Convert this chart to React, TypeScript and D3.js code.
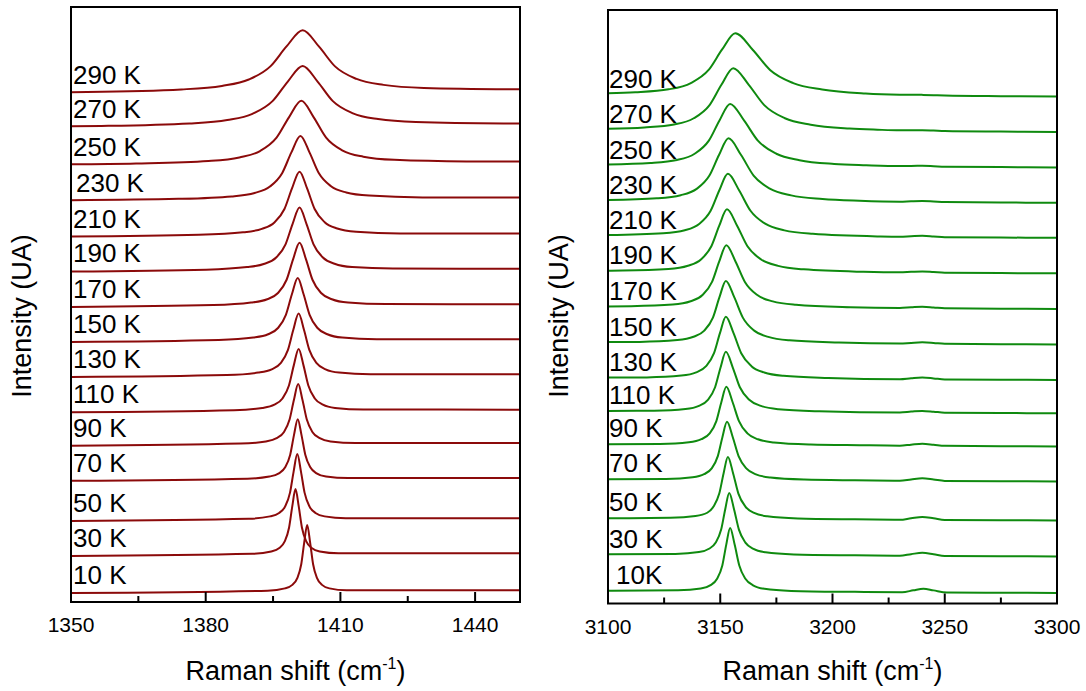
import React from "react";
import * as d3 from "d3";

// Temperature of each stacked spectrum, bottom to top
const temperatures = ["10 K", "30 K", "50 K", "70 K", "90 K", "110 K", "130 K", "150 K", "170 K", "190 K", "210 K", "230 K", "250 K", "270 K", "290 K"];
const rightLabels = ["10K", "30 K", "50 K", "70 K", "90 K", "110 K", "130 K", "150 K", "170 K", "190 K", "210 K", "230 K", "250 K", "270 K", "290 K"];

// Axis ticks (cm-1)
const leftMajorTicks = [1350, 1380, 1410, 1440];
const leftMinorTicks = [1365, 1395, 1425];
const rightMajorTicks = [3100, 3150, 3200, 3250, 3300];
const rightMinorTicks = [3125, 3175, 3225, 3275];

// Vertical stacking offsets (a.u.) of each spectrum
const leftOffsets = [0.176, 0.798, 1.387, 2.062, 2.652, 3.213, 3.807, 4.395, 4.983, 5.58, 6.168, 6.773, 7.373, 8.008, 8.58];
const rightOffsets = [0.202, 0.817, 1.424, 2.081, 2.671, 3.23, 3.791, 4.389, 4.987, 5.586, 6.184, 6.773, 7.368, 7.965, 8.559];

// ~1400 cm-1 band: [Raman shift, intensity] for 10 K ... 290 K
const band1400: number[][][] = [
  [[1350, -0.025], [1393.8, 0.014], [1397.65, 0.053], [1399.3, 0.112], [1400.4, 0.224], [1401.28, 0.459], [1401.94, 0.823], [1402.6, 1.12], [1403.26, 0.823], [1403.92, 0.459], [1404.8, 0.224], [1405.9, 0.112], [1407.55, 0.053], [1411.4, 0.021], [1450, 0.02]],
  [[1350, -0.025], [1390.4, 0.012], [1394.6, 0.052], [1396.4, 0.11], [1397.6, 0.22], [1398.56, 0.451], [1399.28, 0.809], [1400, 1.1], [1400.72, 0.809], [1401.44, 0.451], [1402.4, 0.22], [1403.6, 0.11], [1405.4, 0.052], [1409.6, 0.021], [1450, 0.02]],
  [[1350, -0.025], [1389.6, 0.012], [1394.33, 0.052], [1396.35, 0.11], [1397.7, 0.22], [1398.78, 0.451], [1399.59, 0.809], [1400.4, 1.1], [1401.21, 0.809], [1402.02, 0.451], [1403.1, 0.22], [1404.45, 0.11], [1406.48, 0.052], [1411.2, 0.021], [1450, 0.02]],
  [[1350, -0.025], [1389.3, 0.011], [1394.2, 0.047], [1396.3, 0.101], [1397.7, 0.202], [1398.82, 0.414], [1399.66, 0.742], [1400.5, 1.01], [1401.34, 0.742], [1402.18, 0.414], [1403.3, 0.202], [1404.7, 0.101], [1406.8, 0.047], [1411.7, 0.021], [1450, 0.02]],
  [[1350, -0.025], [1387.8, 0.01], [1393.4, 0.047], [1395.8, 0.101], [1397.4, 0.202], [1398.68, 0.414], [1399.64, 0.742], [1400.6, 1.01], [1401.56, 0.742], [1402.52, 0.414], [1403.8, 0.202], [1405.4, 0.101], [1407.8, 0.047], [1413.4, 0.021], [1450, 0.02]],
  [[1350, -0.025], [1386.3, 0.009], [1392.6, 0.049], [1395.3, 0.104], [1397.1, 0.208], [1398.54, 0.426], [1399.62, 0.764], [1400.7, 1.04], [1401.78, 0.764], [1402.86, 0.426], [1404.3, 0.208], [1406.1, 0.104], [1408.8, 0.049], [1415.1, 0.022], [1450, 0.02]],
  [[1350, -0.025], [1384.7, 0.008], [1391.7, 0.049], [1394.7, 0.104], [1396.7, 0.208], [1398.3, 0.426], [1399.5, 0.764], [1400.7, 1.04], [1401.9, 0.764], [1403.1, 0.426], [1404.7, 0.208], [1406.7, 0.104], [1409.7, 0.049], [1416.7, 0.022], [1450, 0.02]],
  [[1350, -0.025], [1382.9, 0.008], [1390.6, 0.049], [1393.9, 0.105], [1396.1, 0.21], [1397.86, 0.431], [1399.18, 0.772], [1400.5, 1.05], [1401.82, 0.772], [1403.14, 0.431], [1404.9, 0.21], [1407.1, 0.105], [1410.4, 0.049], [1418.1, 0.023], [1450, 0.02]],
  [[1350, -0.025], [1381.7, 0.007], [1390.1, 0.05], [1393.7, 0.106], [1396.1, 0.211], [1398.02, 0.433], [1399.46, 0.775], [1400.9, 1.055], [1402.34, 0.775], [1403.78, 0.433], [1405.7, 0.211], [1408.1, 0.106], [1411.7, 0.05], [1420.1, 0.024], [1450, 0.022]],
  [[1350, -0.024], [1380.1, 0.006], [1389.2, 0.049], [1393.1, 0.105], [1395.7, 0.21], [1397.78, 0.431], [1399.34, 0.772], [1400.9, 1.05], [1402.46, 0.772], [1404.02, 0.431], [1406.1, 0.21], [1408.7, 0.105], [1412.6, 0.049], [1421.7, 0.025], [1450, 0.022]],
  [[1350, -0.024], [1378.5, 0.005], [1388.3, 0.045], [1392.5, 0.104], [1395.3, 0.211], [1397.54, 0.437], [1399.22, 0.783], [1400.9, 1.065], [1402.58, 0.783], [1404.26, 0.437], [1406.5, 0.215], [1409.3, 0.11], [1413.5, 0.055], [1423.3, 0.025], [1450, 0.024]],
  [[1350, -0.02], [1373.9, 0.003], [1385.8, 0.044], [1390.9, 0.102], [1394.3, 0.209], [1397.02, 0.434], [1399.06, 0.779], [1401.1, 1.06], [1403.14, 0.779], [1405.18, 0.436], [1407.9, 0.215], [1411.3, 0.11], [1416.4, 0.057], [1428.3, 0.027], [1450, 0.025]],
  [[1350, -0.017], [1364.5, -0.002], [1380.6, 0.039], [1387.5, 0.099], [1392.1, 0.206], [1395.78, 0.431], [1398.54, 0.772], [1401.3, 1.05], [1404.06, 0.772], [1406.82, 0.431], [1410.5, 0.214], [1415.1, 0.111], [1422, 0.058], [1438.1, 0.031], [1450, 0.029]],
  [[1350, -0.013], [1356.8, -0.007], [1376.4, 0.035], [1384.8, 0.092], [1390.4, 0.196], [1394.88, 0.41], [1398.24, 0.735], [1401.6, 1.0], [1404.96, 0.735], [1408.32, 0.41], [1412.8, 0.205], [1418.4, 0.108], [1426.8, 0.058], [1446.4, 0.034], [1450, 0.033]],
  [[1350, -0.011], [1353.6, -0.008], [1374.6, 0.035], [1383.6, 0.094], [1389.6, 0.201], [1394.4, 0.422], [1398, 0.757], [1401.6, 1.03], [1405.2, 0.757], [1408.8, 0.422], [1413.6, 0.211], [1419.6, 0.111], [1428.6, 0.06], [1450, 0.036]],
];

// ~3150 cm-1 band with the weak ~3240 cm-1 feature: [Raman shift, intensity] for 10 K ... 290 K
const band3150: number[][][] = [
  [[3100, 0.011], [3131.2, 0.02], [3141.35, 0.05], [3145.7, 0.107], [3148.6, 0.214], [3150.92, 0.439], [3152.66, 0.786], [3154.4, 1.07], [3156.44, 0.786], [3158.48, 0.439], [3161.2, 0.214], [3164.6, 0.105], [3169.7, 0.046], [3181.6, 0.01], [3210, -0.006], [3231, -0.013], [3236, 0.02], [3240.5, 0.048], [3245, 0.019], [3251, -0.016], [3275, -0.021], [3300, -0.024]],
  [[3100, 0.011], [3130, 0.019], [3140.5, 0.049], [3145, 0.105], [3148, 0.209], [3150.4, 0.428], [3152.2, 0.768], [3154, 1.045], [3156.16, 0.768], [3158.32, 0.428], [3161.2, 0.209], [3164.8, 0.103], [3170.2, 0.045], [3182.8, 0.009], [3210, -0.006], [3230, -0.013], [3235, 0.014], [3240, 0.038], [3245, 0.014], [3250, -0.016], [3275, -0.021], [3300, -0.024]],
  [[3100, 0.012], [3127.8, 0.019], [3139, 0.049], [3144.2, 0.105], [3147, 0.209], [3149.56, 0.428], [3151.48, 0.768], [3153.4, 1.045], [3155.74, 0.768], [3158.08, 0.428], [3161.2, 0.209], [3165.1, 0.103], [3170.95, 0.045], [3184.6, 0.009], [3210, -0.006], [3230, -0.013], [3235, 0.012], [3240, 0.034], [3245, 0.012], [3250, -0.016], [3275, -0.021], [3300, -0.024]],
  [[3100, 0.012], [3125.8, 0.018], [3137.7, 0.046], [3142.8, 0.098], [3146.2, 0.196], [3148.92, 0.402], [3150.96, 0.72], [3153, 0.98], [3155.58, 0.72], [3158.16, 0.402], [3161.6, 0.196], [3165.9, 0.096], [3172.35, 0.042], [3187.4, 0.008], [3210, -0.005], [3230, -0.012], [3235, 0.01], [3240, 0.029], [3245, 0.009], [3250, -0.015], [3275, -0.021], [3300, -0.024]],
  [[3100, 0.013], [3123.1, 0.018], [3136.05, 0.046], [3141.6, 0.098], [3145.3, 0.196], [3148.26, 0.402], [3150.48, 0.72], [3152.7, 0.98], [3155.52, 0.72], [3158.34, 0.402], [3162.1, 0.196], [3166.8, 0.096], [3173.85, 0.042], [3190.3, 0.008], [3212, -0.004], [3230, -0.011], [3235, 0.005], [3240, 0.019], [3245, 0.004], [3250, -0.015], [3275, -0.021], [3300, -0.024]],
  [[3100, 0.014], [3120.5, 0.019], [3134.5, 0.047], [3140.5, 0.101], [3144.5, 0.202], [3147.7, 0.414], [3150.1, 0.742], [3152.5, 1.01], [3155.62, 0.742], [3158.74, 0.414], [3162.9, 0.202], [3168.1, 0.099], [3175.9, 0.043], [3194.1, 0.009], [3230, -0.011], [3235, 0.003], [3240, 0.015], [3245, 0.002], [3250, -0.015], [3275, -0.021], [3300, -0.024]],
  [[3100, 0.015], [3117.3, 0.019], [3132.7, 0.049], [3139.3, 0.104], [3143.7, 0.208], [3147.22, 0.426], [3149.86, 0.764], [3152.5, 1.04], [3155.92, 0.764], [3159.34, 0.426], [3163.9, 0.208], [3169.6, 0.102], [3178.15, 0.045], [3198.1, 0.009], [3230, -0.011], [3235, 0.004], [3240, 0.015], [3245, 0.002], [3250, -0.015], [3275, -0.021], [3300, -0.024]],
  [[3100, 0.017], [3114.1, 0.019], [3130.9, 0.049], [3138.1, 0.105], [3142.9, 0.209], [3146.74, 0.428], [3149.62, 0.768], [3152.5, 1.045], [3156.28, 0.768], [3160.06, 0.428], [3165.1, 0.209], [3171.4, 0.103], [3180.85, 0.045], [3202.9, 0.008], [3230, -0.009], [3235, 0.002], [3240, 0.011], [3245, 0.001], [3250, -0.014], [3275, -0.021], [3300, -0.024]],
  [[3100, 0.019], [3110.3, 0.022], [3128.85, 0.049], [3136.8, 0.105], [3142.1, 0.21], [3146.34, 0.431], [3149.52, 0.772], [3152.7, 1.05], [3156.84, 0.772], [3160.98, 0.431], [3166.5, 0.21], [3173.4, 0.103], [3183.75, 0.045], [3207.9, 0.004], [3230, -0.008], [3235, 0.003], [3240, 0.013], [3245, 0.001], [3250, -0.013], [3275, -0.02], [3300, -0.023]],
  [[3100, 0.021], [3106.6, 0.023], [3126.9, 0.05], [3135.6, 0.106], [3141.4, 0.211], [3146.04, 0.433], [3149.52, 0.775], [3153, 1.055], [3157.56, 0.775], [3162.12, 0.433], [3168.2, 0.211], [3175.8, 0.103], [3187.2, 0.044], [3213.8, 0.003], [3230, -0.006], [3235, 0.002], [3240, 0.009], [3245, -0.001], [3250, -0.012], [3275, -0.019], [3300, -0.023]],
  [[3100, 0.023], [3124.6, 0.055], [3134.2, 0.106], [3140.6, 0.211], [3145.72, 0.433], [3149.56, 0.775], [3153.4, 1.055], [3158.44, 0.775], [3163.48, 0.433], [3170.2, 0.211], [3178.6, 0.103], [3191.2, 0.044], [3220.6, 0.001], [3230, -0.004], [3235, 0.004], [3240, 0.011], [3245, 0.001], [3250, -0.011], [3275, -0.018], [3300, -0.022]],
  [[3100, 0.026], [3121.75, 0.055], [3132.4, 0.107], [3139.5, 0.213], [3145.18, 0.437], [3149.44, 0.783], [3153.7, 1.065], [3159.28, 0.783], [3164.86, 0.437], [3172.3, 0.213], [3181.6, 0.104], [3195.55, 0.043], [3212, 0.013], [3230, -0.002], [3235, 0.004], [3240, 0.008], [3245, 0], [3250, -0.01], [3275, -0.017], [3300, -0.021]],
  [[3100, 0.03], [3118.85, 0.055], [3130.7, 0.105], [3138.6, 0.21], [3144.92, 0.431], [3149.66, 0.772], [3154.4, 1.05], [3160.58, 0.772], [3166.76, 0.431], [3175, 0.21], [3185.3, 0.102], [3200.75, 0.038], [3215, 0.016], [3230, 0.002], [3235, 0.005], [3240, 0.006], [3245, 0], [3250, -0.008], [3275, -0.015], [3300, -0.02]],
  [[3100, 0.034], [3116.2, 0.056], [3129.4, 0.106], [3138.2, 0.211], [3145.24, 0.433], [3150.52, 0.775], [3155.8, 1.055], [3162.7, 0.775], [3169.6, 0.433], [3178.8, 0.211], [3190.3, 0.103], [3207.55, 0.038], [3220, 0.018], [3230, 0.008], [3235, 0.01], [3240, 0.01], [3245, 0.004], [3250, -0.004], [3275, -0.013], [3300, -0.019]],
  [[3100, 0.039], [3112.15, 0.055], [3127, 0.105], [3136.9, 0.21], [3144.82, 0.431], [3150.76, 0.772], [3156.7, 1.05], [3164.44, 0.772], [3172.18, 0.431], [3182.5, 0.21], [3195.4, 0.102], [3214.75, 0.035], [3230, 0.015], [3235, 0.013], [3240, 0.011], [3245, 0.006], [3250, 0], [3275, -0.011], [3300, -0.017]],
];

const FONT = "'Liberation Sans', Arial, Helvetica, sans-serif";

type PanelProps = {
  left: number;
  right: number;
  top: number;
  bottom: number;
  xDomain: [number, number];
  majors: number[];
  minors: number[];
  spectra: number[][][];
  offsets: number[];
  labels: string[];
  color: string;
  labelX: number;
  yTitleX: number;
};

function Panel(p: PanelProps) {
  const x = d3.scaleLinear().domain(p.xDomain).range([p.left, p.right]);
  const y = d3.scaleLinear().domain([0, 10]).range([p.bottom, p.top]);
  const cx = (p.left + p.right) / 2;

  return (
    <g>
      {p.spectra.map((pts, i) => {
        const line = d3
          .line<number[]>()
          .x((d) => x(d[0]))
          .y((d) => y(d[1] + p.offsets[i]))
          .curve(d3.curveMonotoneX);
        return (
          <path
            key={"s" + i}
            d={line(pts) || ""}
            fill="none"
            stroke={p.color}
            strokeWidth={2}
            strokeLinejoin="round"
          />
        );
      })}

      {p.labels.map((t, i) => (
        <text
          key={"l" + i}
          x={p.labelX + (t === "10K" ? 7 : 0) + (t === "230 K" && p.labelX < 100 ? 3 : 0)}
          y={y(p.offsets[i]) - 7.5}
          fontSize={26}
          fontFamily={FONT}
          fill="#000"
        >
          {t}
        </text>
      ))}

      <rect
        x={p.left}
        y={p.top}
        width={p.right - p.left}
        height={p.bottom - p.top}
        fill="none"
        stroke="#000"
        strokeWidth={2}
      />

      {p.majors.map((t) => (
        <g key={"M" + t}>
          <line x1={x(t)} x2={x(t)} y1={p.bottom} y2={p.bottom - 10} stroke="#000" strokeWidth={2} />
          <text
            x={x(t)}
            y={p.bottom + 30}
            textAnchor="middle"
            fontSize={21}
            fontFamily={FONT}
            fill="#000"
          >
            {t}
          </text>
        </g>
      ))}
      {p.minors.map((t) => (
        <line key={"m" + t} x1={x(t)} x2={x(t)} y1={p.bottom} y2={p.bottom - 6} stroke="#000" strokeWidth={2} />
      ))}

      <text x={cx} y={680} textAnchor="middle" fontSize={27} fontFamily={FONT} fill="#000">
        Raman shift (cm
        <tspan fontSize={16} dy={-11}>-1</tspan>
        <tspan dy={11}>)</tspan>
      </text>

      <text
        transform={`translate(${p.yTitleX},316) rotate(-90)`}
        textAnchor="middle"
        fontSize={27}
        fontFamily={FONT}
        fill="#000"
      >
        Intensity (UA)
      </text>
    </g>
  );
}

export default function App() {
  return (
    <svg
      width={1086}
      height={691}
      viewBox="0 0 1086 691"
      style={{ position: "absolute", left: 0, top: 0, background: "#fff" }}
    >
      <rect x={0} y={0} width={1086} height={691} fill="#fff" />
      <Panel
        left={71}
        right={520}
        top={7}
        bottom={602}
        xDomain={[1350, 1450]}
        majors={leftMajorTicks}
        minors={leftMinorTicks}
        spectra={band1400}
        offsets={leftOffsets}
        labels={temperatures}
        color="#8b0a0a"
        labelX={73}
        yTitleX={31}
      />
      <Panel
        left={608}
        right={1057}
        top={10}
        bottom={603.5}
        xDomain={[3100, 3300]}
        majors={rightMajorTicks}
        minors={rightMinorTicks}
        spectra={band3150}
        offsets={rightOffsets}
        labels={rightLabels}
        color="#0f8a0f"
        labelX={609}
        yTitleX={568}
      />
    </svg>
  );
}
